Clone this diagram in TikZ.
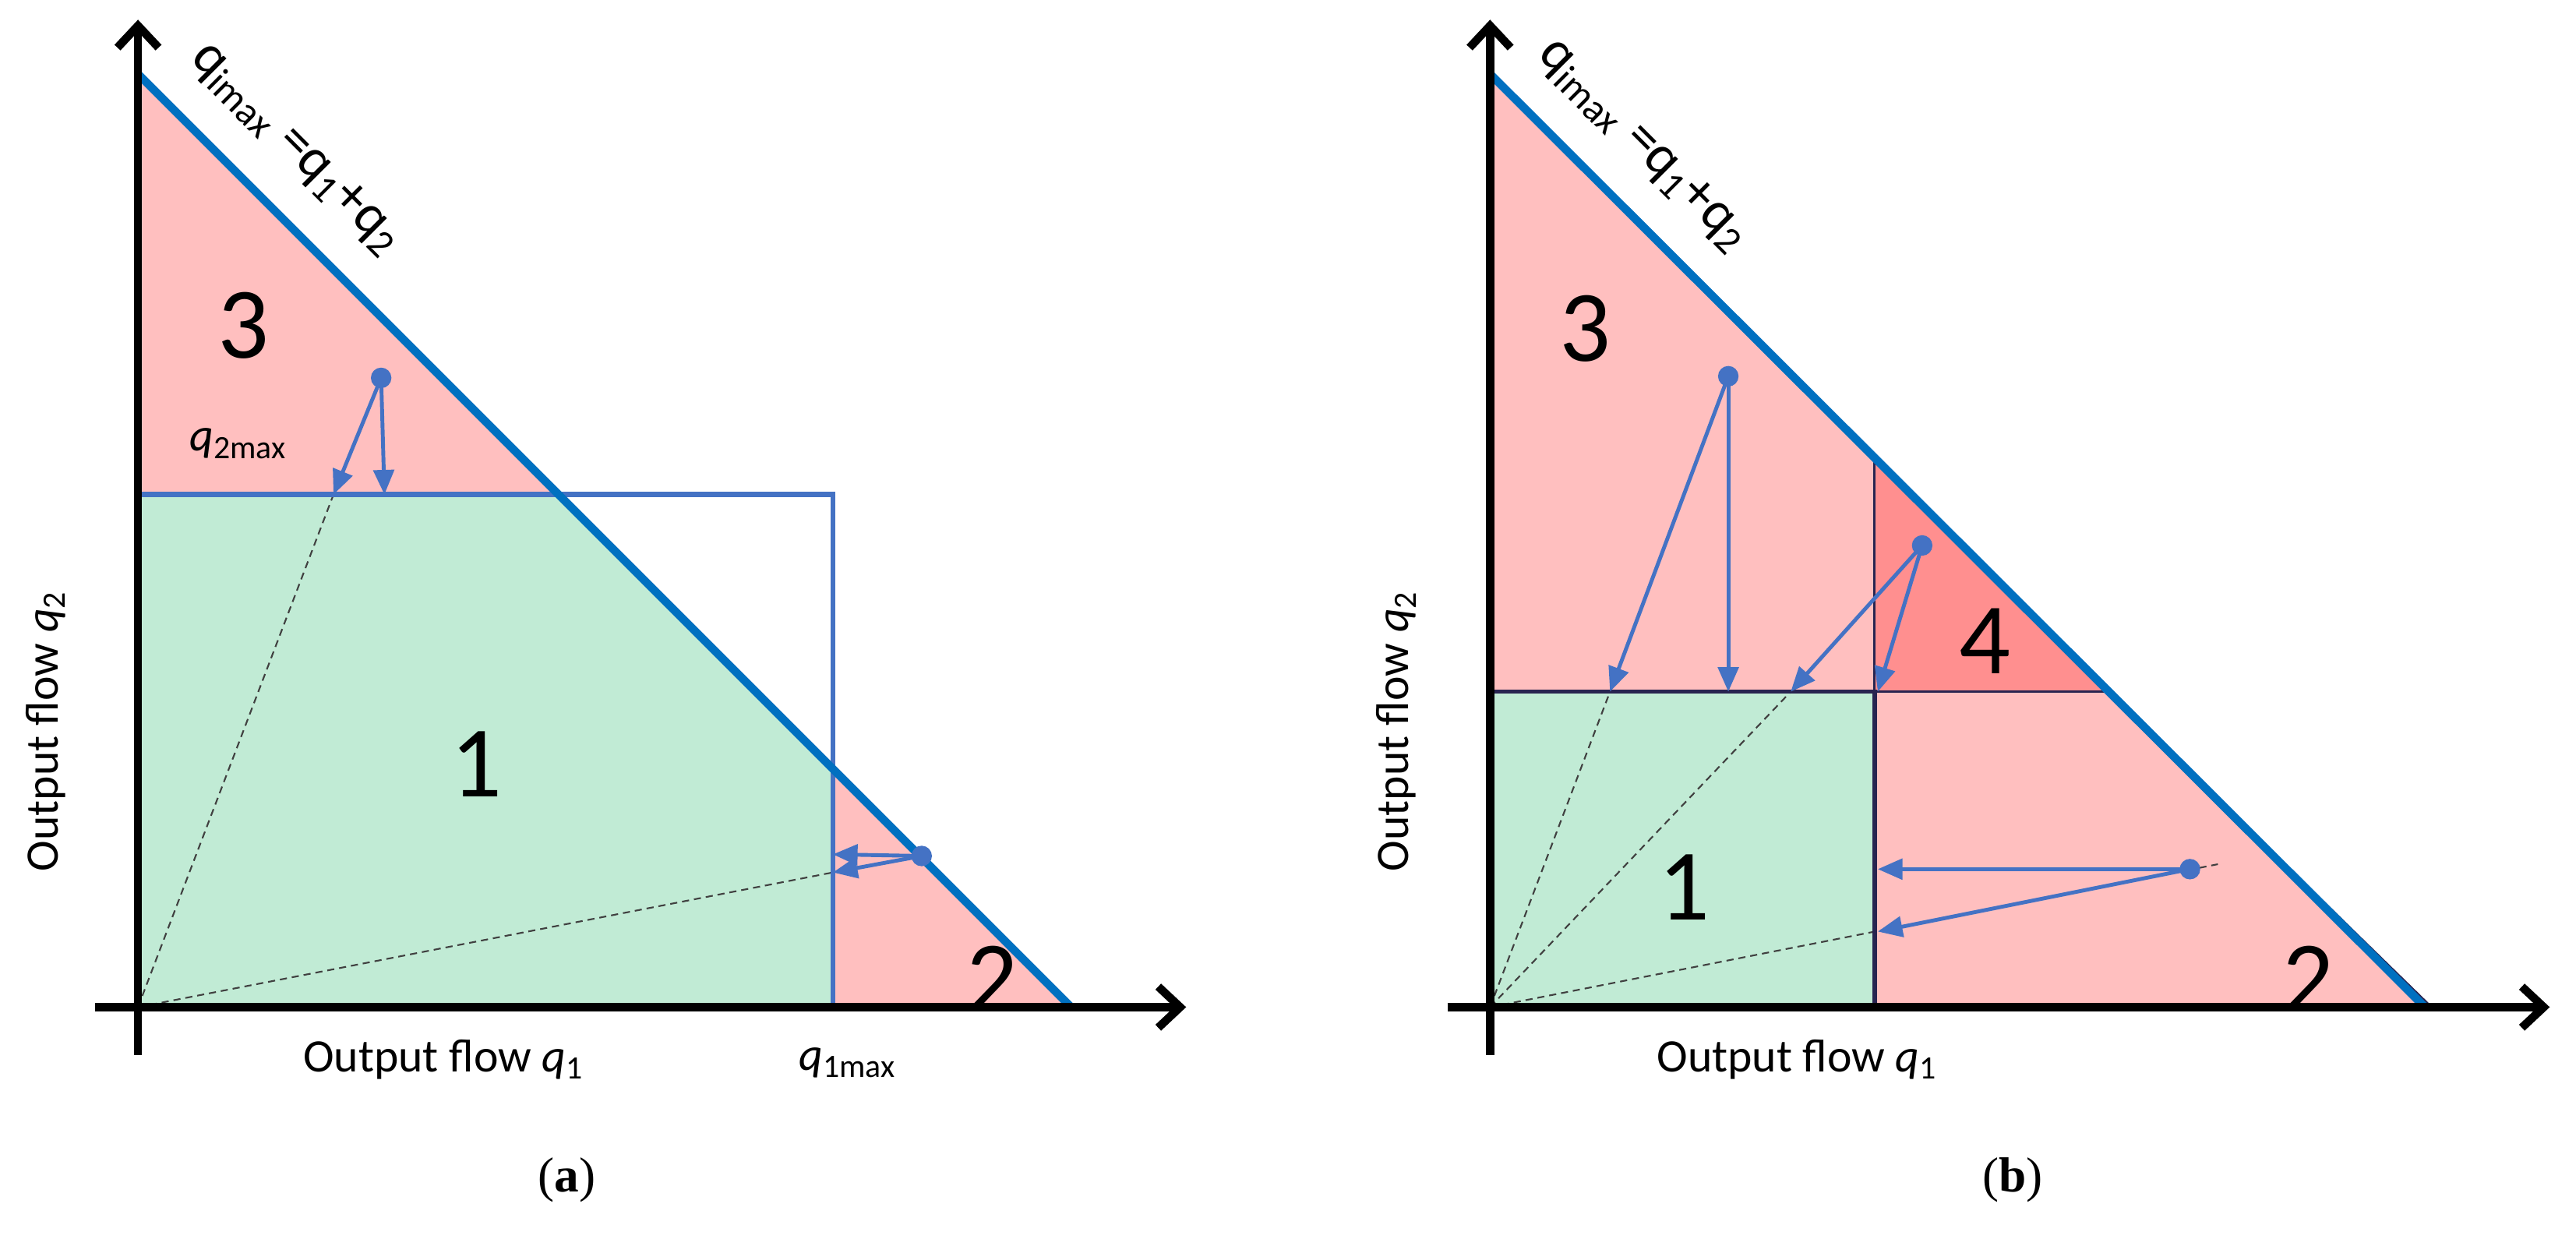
\documentclass[tikz,border=0pt]{standalone}
\usepackage{fontspec}
\setmainfont{Carlito}
\newfontfamily\capfont{Liberation Serif}
\usetikzlibrary{arrows.meta}
\definecolor{pinkL}{RGB}{255,191,191}
\definecolor{pinkD}{RGB}{255,143,143}
\definecolor{greenL}{RGB}{193,235,213}
\definecolor{diagBlue}{RGB}{0,112,192}
\definecolor{arrowBlue}{RGB}{68,114,196}
\definecolor{navy}{RGB}{40,36,80}
\begin{document}
\begin{tikzpicture}[x=0.021084cm,y=-0.021084cm,
  axisline/.style={line width=3pt,-{Straight Barb[length=8pt,width=15pt]}},
  qmaxline/.style={line width=1.8pt,draw=arrowBlue},
  diagline/.style={line width=3pt,draw=diagBlue},
  flowarrow/.style={line width=1.4pt,draw=arrowBlue,-{Triangle[length=9pt,width=7.5pt]},shorten <=-1pt},
  guideline/.style={line width=0.6pt,draw=black!75,dash pattern=on 2.6pt off 1.8pt},
  thinedge/.style={line width=0.8pt,draw=navy},
  thickedge/.style={line width=1.6pt,draw=navy},
  dotnode/.style={circle,fill=arrowBlue,inner sep=0pt,minimum size=7.5pt},
  regionlbl/.style={font=\fontsize{37}{40}\selectfont,inner sep=0pt},
  axlbl/.style={font=\fontsize{17}{20}\selectfont,inner sep=0pt},
  difflbl/.style={font=\fontsize{20.5}{24}\selectfont,inner sep=0pt,rotate=-45},
  caplbl/.style={font=\capfont\fontsize{18}{20}\selectfont,inner sep=0pt}]
\useasboundingbox (0,0) rectangle (1568,754);

% ===================== panel (a) =====================
\coordinate (aO) at (84,613);
\coordinate (aYt) at (84,12);
\coordinate (aXt) at (722,613);
\coordinate (aYs) at (84,642);
\coordinate (aXs) at (58,613);
\coordinate (aDt) at (84,45);
\coordinate (aDb) at (652,613);
\coordinate (aQ2) at (84,301);
\coordinate (aC1) at (340,301);
\coordinate (aK) at (507,301);
\coordinate (aC2) at (507,468);
\coordinate (aQ1) at (507,613);
\coordinate (aP1) at (203,301);
\coordinate (aP2) at (234,301);
\coordinate (aP3) at (507,520);
\coordinate (aP4) at (507,531);

\fill[greenL] (aO) -- (aQ2) -- (aC1) -- (aC2) -- (aQ1) -- cycle;
\fill[pinkL] (aDt) -- (aQ2) -- (aC1) -- cycle;
\fill[pinkL] (aC2) -- (aQ1) -- (aDb) -- cycle;

\draw[guideline] (aO) -- (aP1);
\draw[guideline] (aO) -- (aP4);

\draw[qmaxline] (aQ2) -- (aK) -- (aQ1);
\draw[diagline] (aDt) -- (aDb);
\draw[axisline] (aYs) -- (aYt);
\draw[axisline] (aXs) -- (aXt);

\node[dotnode] (aD1) at (232,230) {};
\node[dotnode] (aD2) at (561,521) {};
\draw[flowarrow] (aD1) -- (aP1);
\draw[flowarrow] (aD1) -- (aP2);
\draw[flowarrow] (aD2) -- (aP3);
\draw[flowarrow] (aD2) -- (aP4);

\node[regionlbl] (aR3) at (148,198) {3};
\node[regionlbl] (aR1) at (290,465) {1};
\node[regionlbl] (aR2) at (604,596) {2};
\node[axlbl] (aL2) at (145,270) {\textit{q}\textsubscript{2max}};
\node[difflbl] (aLd) at (180,91) {q\textsubscript{imax} =q\textsubscript{1}+q\textsubscript{2}};
\node[axlbl] (aLx) at (270,645) {Output flow \textit{q}\textsubscript{1}};
\node[axlbl] (aLq1) at (516,647) {\textit{q}\textsubscript{1max}};
\node[axlbl,rotate=90] (aLy) at (28,445) {Output flow \textit{q}\textsubscript{2}};
\node[caplbl] (aCap) at (345,718) {(\textbf{a})};

% ===================== panel (b) =====================
\coordinate (bO) at (907,613);
\coordinate (bYt) at (907,12);
\coordinate (bXt) at (1552,613);
\coordinate (bYs) at (907,642);
\coordinate (bXs) at (881,613);
\coordinate (bDt) at (907,45);
\coordinate (bDb) at (1476,613);
\coordinate (bDe) at (1480,613);
\coordinate (bH) at (907,421);
\coordinate (bG) at (1141,421);
\coordinate (bC1) at (1141,279);
\coordinate (bC2) at (1283,421);
\coordinate (bV) at (1141,613);
\coordinate (bP1) at (980,421);
\coordinate (bP2) at (1052,421);
\coordinate (bP3) at (1090,421);
\coordinate (bP4) at (1143,421);
\coordinate (bP5) at (1143,529);
\coordinate (bP6) at (1143,567);
\coordinate (bP7) at (1350,526);

\fill[greenL] (bO) rectangle (bG);
\fill[pinkL] (bDt) -- (bH) -- (bG) -- (bC1) -- cycle;
\fill[pinkD] (bC1) -- (bG) -- (bC2) -- cycle;
\fill[pinkL] (bG) -- (bC2) -- (bDe) -- (bV) -- cycle;

\draw[guideline] (bO) -- (bP1);
\draw[guideline] (bO) -- (bP3);
\draw[guideline] (bO) -- (bP7);

\draw[thinedge] (bC1) -- (bG);
\draw[thinedge] (bG) -- (bC2);
\draw[thinedge] (bC2) -- (bDe);
\draw[thickedge] (bH) -- (bG) -- (bV);

\draw[diagline] (bDt) -- (bDb);
\draw[axisline] (bYs) -- (bYt);
\draw[axisline] (bXs) -- (bXt);

\node[dotnode] (bD1) at (1052,229) {};
\node[dotnode] (bD2) at (1170,332) {};
\node[dotnode] (bD3) at (1333,529) {};
\draw[flowarrow] (bD1) -- (bP1);
\draw[flowarrow] (bD1) -- (bP2);
\draw[flowarrow] (bD2) -- (bP3);
\draw[flowarrow] (bD2) -- (bP4);
\draw[flowarrow] (bD3) -- (bP5);
\draw[flowarrow] (bD3) -- (bP6);

\node[regionlbl] (bR3) at (965,200) {3};
\node[regionlbl] (bR4) at (1208,390) {4};
\node[regionlbl] (bR1) at (1025,540) {1};
\node[regionlbl] (bR2) at (1405,596) {2};
\node[difflbl] (bLd) at (1000,89) {q\textsubscript{imax} =q\textsubscript{1}+q\textsubscript{2}};
\node[axlbl] (bLx) at (1094,645) {Output flow \textit{q}\textsubscript{1}};
\node[axlbl,rotate=90] (bLy) at (850,445) {Output flow \textit{q}\textsubscript{2}};
\node[caplbl] (bCap) at (1225,718) {(\textbf{b})};
\end{tikzpicture}
\end{document}
